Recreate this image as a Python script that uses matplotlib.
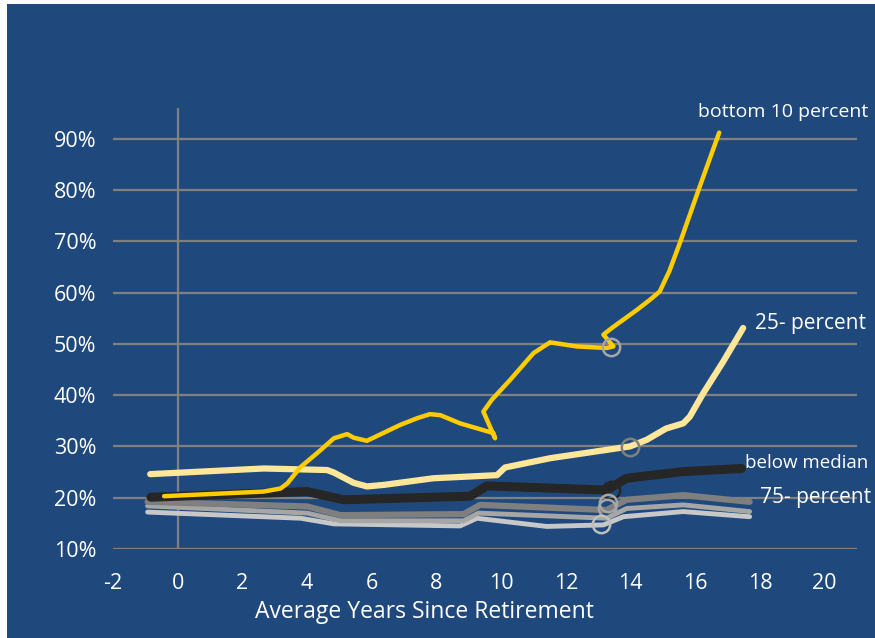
import matplotlib.pyplot as plt
from matplotlib.patches import Rectangle

plt.rcParams['font.family'] = ['Open Sans', 'DejaVu Sans']

# years since retirement / share (as fraction) for each group
bottom10_x = [-0.42, 2.65, 3.18, 3.39, 3.8, 4.31, 4.83, 5.24, 5.44, 5.85, 6.88, 7.4, 7.8, 8.12, 8.73, 9.76, 9.81,
              9.45, 9.71, 10.28, 11.0, 11.51, 12.34, 13.26, 13.47,
              13.16, 13.4, 14.19, 14.6, 14.9, 15.2, 15.52, 16.14, 16.74]
bottom10_y = [0.203, 0.212, 0.218, 0.228, 0.260, 0.287, 0.316, 0.324, 0.317, 0.311, 0.342, 0.355, 0.363, 0.361, 0.345, 0.326, 0.316,
              0.368, 0.391, 0.430, 0.482, 0.503, 0.495, 0.492, 0.495,
              0.518, 0.530, 0.566, 0.586, 0.602, 0.642, 0.696, 0.807, 0.912]

p25_x = [-0.85, 2.66, 4.62, 4.83, 5.44, 5.85, 6.37, 7.91, 9.87, 10.12, 11.51, 13.98, 14.5, 15.1, 15.63, 15.83, 16.25, 16.86, 17.48]
p25_y = [0.246, 0.257, 0.254, 0.249, 0.229, 0.222, 0.225, 0.238, 0.244, 0.259, 0.277, 0.300, 0.313, 0.335, 0.345, 0.358, 0.404, 0.465, 0.531]

median_x = [-0.83, 4.0, 5.13, 9.04, 9.56, 13.26, 13.88, 15.63, 17.43]
median_y = [0.201, 0.212, 0.196, 0.203, 0.223, 0.215, 0.238, 0.251, 0.257]

p75_x = [-0.93, 4.0, 5.03, 8.84, 9.35, 13.26, 13.88, 15.63, 17.68]
p75_y = [0.192, 0.183, 0.166, 0.168, 0.186, 0.176, 0.196, 0.205, 0.192]

above_x = [-0.93, 4.0, 5.03, 8.84, 9.3, 13.26, 13.88, 15.63, 17.68]
above_y = [0.184, 0.170, 0.155, 0.155, 0.170, 0.160, 0.179, 0.186, 0.173]

top_x = [-0.93, 3.8, 4.83, 8.73, 9.25, 11.41, 13.16, 13.78, 15.63, 17.68]
top_y = [0.172, 0.160, 0.149, 0.145, 0.160, 0.144, 0.147, 0.163, 0.173, 0.163]

# hollow circles marking one point on each curve
mark_x = [13.41, 13.98, 13.4, 13.3, 13.26, 13.1]
mark_y = [0.494, 0.298, 0.215, 0.190, 0.179, 0.149]
mark_col = ['#A6A6A6', '#808080', '#262626', '#A6A6A6', '#A6A6A6', '#BFBFBF']

xticks = list(range(-2, 21, 2))
xtick_labels = [str(t) for t in xticks]
yticks = [0.1, 0.2, 0.3, 0.4, 0.5, 0.6, 0.7, 0.8, 0.9]
ytick_labels = ['10%', '20%', '30%', '40%', '50%', '60%', '70%', '80%', '90%']

bg = '#1F497D'
grid = '#808080'

fig = plt.figure(figsize=(8.75, 6.38), dpi=100, facecolor='white')
fig.patches.append(Rectangle((7 / 875, 0), 1, 1 - 4 / 638, transform=fig.transFigure,
                             facecolor=bg, edgecolor='none', zorder=-10))
ax = fig.add_axes([113 / 875, 1 - 549 / 638, (857 - 113) / 875, (549 - 108) / 638])
ax.set_facecolor('none')

ax.set_xlim(-2, 21)
ax.set_ylim(0.10, 0.96)
for v in yticks:
    ax.axhline(v, color=grid, lw=1.6, zorder=1)
ax.axvline(0, color=grid, lw=1.6, zorder=1)
for s in ax.spines.values():
    s.set_visible(False)

kw = dict(solid_capstyle='round', solid_joinstyle='round', zorder=3)
ax.plot(top_x, top_y, color='#C8C8C8', lw=3.5, **kw)
ax.plot(above_x, above_y, color='#A6A6A6', lw=3.5, **kw)
ax.plot(p75_x, p75_y, color='#7F7F7F', lw=4.5, **kw)
ax.plot(median_x, median_y, color='#262626', lw=6.5, **kw)
ax.plot(p25_x, p25_y, color='#FFE699', lw=4.5, **kw)
ax.plot(bottom10_x, bottom10_y, color='#FFCC00', lw=3.2, **kw)
for mx, my, mc in zip(mark_x, mark_y, mark_col):
    ax.plot(mx, my, 'o', ms=12.5, mfc='none', mec=mc, mew=1.8, zorder=4)

ax.set_xticks(xticks)
ax.set_xticklabels(xtick_labels)
ax.set_yticks(yticks)
ax.set_yticklabels(ytick_labels)
ax.tick_params(colors='white', labelsize=15.5, length=0)
ax.tick_params(axis='x', pad=17)
ax.tick_params(axis='y', pad=12)

fig.text(424 / 875, 1 - 612 / 638, 'Average Years Since Retirement', color='white',
         fontsize=16.5, ha='center', va='center')

lab = dict(color='white', va='center', transform=fig.transFigure)
fig.text(698 / 875, 1 - 112 / 638, 'bottom 10 percent', fontsize=14, **lab)
fig.text(755 / 875, 1 - 323 / 638, '25- percent', fontsize=15, **lab)
fig.text(745 / 875, 1 - 463 / 638, 'below median', fontsize=13.5, **lab)
fig.text(760 / 875, 1 - 497 / 638, '75- percent', fontsize=15, **lab)

fig.savefig('out.png', dpi=100, facecolor=fig.get_facecolor())
